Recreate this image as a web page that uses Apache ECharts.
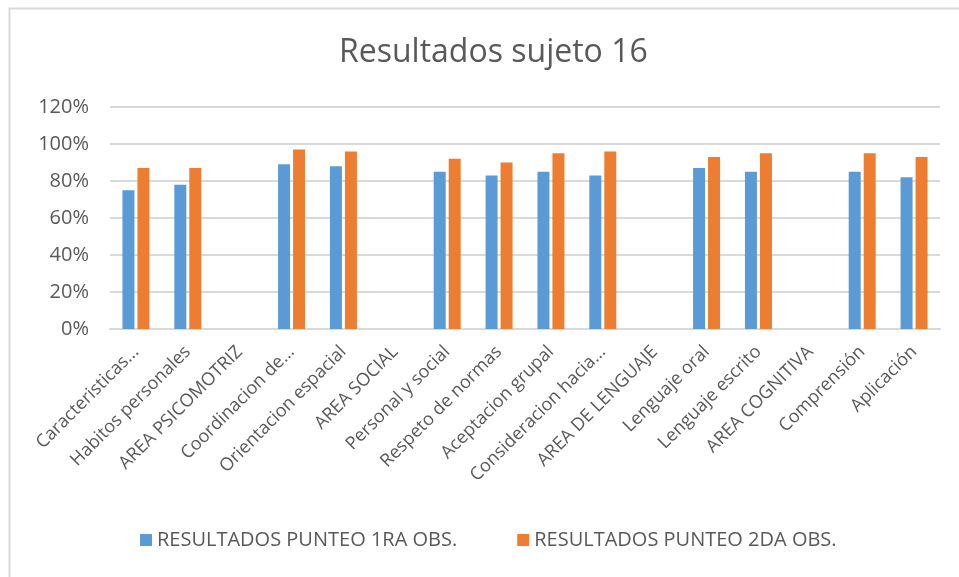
<!DOCTYPE html>
<html>
<head>
<meta charset="utf-8">
<script src="https://cdn.jsdelivr.net/npm/echarts@6/dist/echarts.min.js"></script>
<style>
  html, body { margin: 0; padding: 0; background: #fff; }
  #main { width: 959px; height: 577px; }
</style>
</head>
<body>
<div id="main"></div>
<script>
// categorias del eje x
var categorias = [
  "Caracteristicas...", "Habitos personales", "AREA PSICOMOTRIZ", "Coordinacion de...",
  "Orientacion espacial", "AREA SOCIAL", "Personal y social", "Respeto de normas",
  "Aceptacion grupal", "Consideracion hacia...", "AREA DE LENGUAJE", "Lenguaje oral",
  "Lenguaje escrito", "AREA COGNITIVA", "Comprensión", "Aplicación"
];
// resultados (fraccion)
var obs1 = [0.75, 0.78, null, 0.89, 0.88, null, 0.85, 0.83, 0.85, 0.83, null, 0.87, 0.85, null, 0.85, 0.82];
var obs2 = [0.87, 0.87, null, 0.97, 0.96, null, 0.92, 0.90, 0.95, 0.96, null, 0.93, 0.95, null, 0.95, 0.93];
var nombres = ["RESULTADOS PUNTEO 1RA OBS.", "RESULTADOS PUNTEO 2DA OBS."];

var myChart = echarts.init(document.getElementById("main"));
var fuente = "'Open Sans', 'DejaVu Sans', sans-serif";
var option = {
  animation: false,
  textStyle: { fontFamily: fuente, color: "#595959" },
  title: {
    text: "Resultados sujeto 16",
    left: 334,
    top: 32,
    textStyle: { fontSize: 32, fontWeight: "normal", color: "#595959", fontFamily: fuente }
  },
  graphic: [{
    type: "rect",
    shape: { x: 9.5, y: 8.5, width: 1000, height: 1000 },
    style: { fill: "none", stroke: "#d9d9d9", lineWidth: 2 },
    silent: true
  }],
  legend: {
    bottom: 22,
    left: 135,
    itemWidth: 12,
    itemHeight: 12,
    itemGap: 60,
    icon: "rect",
    textStyle: { fontSize: 20, color: "#595959", fontFamily: fuente },
    data: nombres
  },
  grid: { left: 110, right: 19, top: 107, bottom: 248, containLabel: false },
  xAxis: {
    type: "category",
    data: categorias,
    axisLine: { lineStyle: { color: "#d9d9d9", width: 2 } },
    axisTick: { show: false },
    axisLabel: { rotate: 45, interval: 0, fontSize: 18, color: "#595959", margin: 20 }
  },
  yAxis: {
    type: "value",
    min: 0,
    max: 1.2,
    interval: 0.2,
    axisLine: { show: false },
    axisTick: { show: false },
    splitLine: { lineStyle: { color: "#d9d9d9", width: 2 } },
    axisLabel: {
      fontSize: 20,
      color: "#595959",
      margin: 21,
      formatter: function(v) { return Math.round(v * 100) + "%"; }
    }
  },
  series: [
    {
      name: nombres[0],
      type: "bar",
      data: obs1,
      barWidth: 12,
      barGap: "25%",
      itemStyle: { color: "#5b9bd5" }
    },
    {
      name: nombres[1],
      type: "bar",
      data: obs2,
      barWidth: 12,
      itemStyle: { color: "#ed7d31" }
    }
  ]
};
myChart.setOption(option);
</script>
</body>
</html>
